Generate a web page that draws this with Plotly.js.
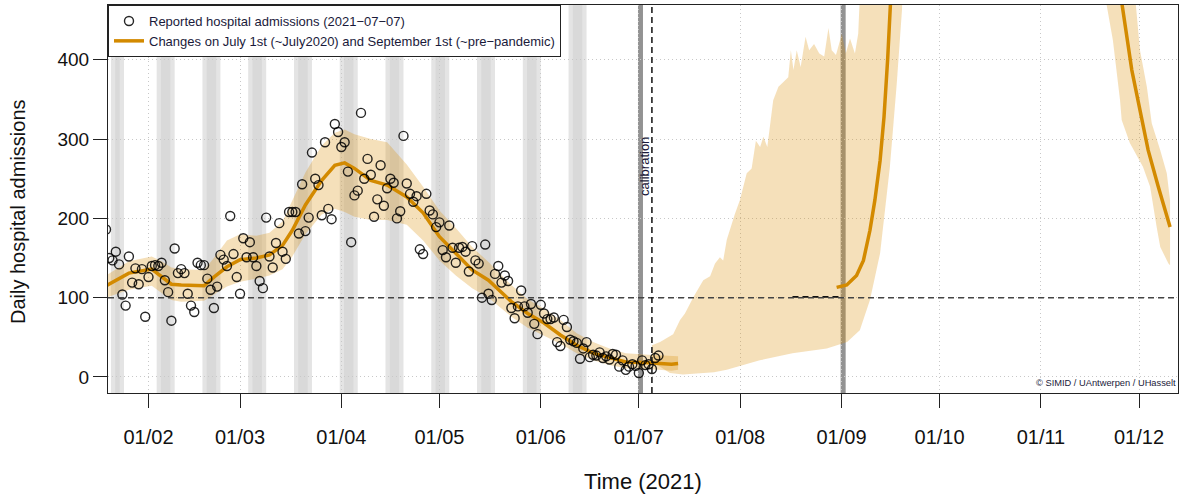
<!DOCTYPE html>
<html><head><meta charset="utf-8">
<script src="https://cdn.plot.ly/plotly-3.0.1.min.js"></script>
<style>html,body{margin:0;padding:0;background:#fff}#chart{width:1182px;height:502px}</style>
</head><body><div id="chart"></div>
<script>
// ---------- data (days counted from 2021-01-01 = day 0) ----------
const obsStartDay = 18; // 2021-01-19, daily observations up to 2021-07-07
const obsValues = [186,150,147,158,142,104,90,152,119,137,
117,136,76,126,140,141,140,144,122,107,
71,162,131,136,131,105,90,82,144,141,
141,124,110,87,114,154,148,140,203,155,
126,105,175,151,170,151,140,121,112,201,
152,138,169,194,158,149,208,208,208,181,
243,184,201,283,250,242,204,296,212,199,
319,309,290,296,259,170,229,235,333,250,
275,255,202,224,267,216,238,250,245,200,
209,304,244,231,221,228,161,155,231,210,
205,189,195,160,151,191,163,144,163,164,
158,133,165,147,143,100,167,105,97,130,
140,119,128,121,87,74,89,109,89,81,
92,67,54,91,80,73,73,75,44,39,
72,63,47,45,43,23,36,44,25,28,
27,31,24,26,22,29,28,13,21,9,
13,16,14,5,21,15,16,10,24,27];

const fitDates = ['2021-01-19','2021-01-22','2021-01-26','2021-02-02','2021-02-05','2021-02-08','2021-02-11','2021-02-18','2021-02-21','2021-02-25',
'2021-03-01','2021-03-06','2021-03-10','2021-03-14','2021-03-17','2021-03-21','2021-03-26','2021-03-30','2021-04-02','2021-04-05',
'2021-04-10','2021-04-15','2021-04-21','2021-04-26','2021-05-01','2021-05-06','2021-05-11','2021-05-16','2021-05-23','2021-05-28',
'2021-06-02','2021-06-07','2021-06-12','2021-06-17','2021-06-22','2021-06-27','2021-07-04','2021-07-11','2021-07-13'];
const fitVals = [115,122,131,136,126,117,116,115,126,139,148,150,154,166,185,217,248,267,270,263,248,242,227,207,177,156,135,122,95,80,68,53,40,30,24,19,18,16,17];
const fitLo   = [100,104,110,115,106,97,95,96,104,114,120,124,128,136,152,180,205,212,208,202,198,198,192,172,147,128,112,100,76,62,52,42,30,21,15,11,10,8,9];
const fitHi   = [128,136,146,152,146,138,136,135,150,172,180,178,182,196,222,258,292,308,312,306,300,296,268,240,210,188,164,145,116,98,86,72,55,44,36,30,28,26,26];

const projLineDays = [241.5,244.6,247.6,249.7,251.7,253.2,254.8,256,257.1,258,262,280,300,320,328.7,331.8,334.3,336.8,339.9,343.5];
const projLineVals = [113,116,128,147,185,223,273,328,400,467,800,1500,1800,900,473,387,337,286,240,189];

const projHiDays = [185,187.5,191.5,193.6,195.1,197.7,200.7,202.8,204.3,205.8,206.8,207.9,210.4,211.9,214,215.5,216.8,218.1,219.1,220.3,222.1,223.7,225.7,226.7,227.5,228.3,229.3,230.5,232,233.1,234.6,236.2,237.7,239,240,241.3,243.1,244.3,245.6,247.1,248.1,248.6,252,270,300,325,332.8,334.3,336.4,337.9,340.5,342.5,343.5];
const projHiVals = [40,44,54,72,80,101,122,127,143,151,147,173,206,223,257,263,298,290,303,290,349,366,374,378,412,387,412,391,429,412,420,408,404,440,412,406,433,408,427,408,433,480,900,2500,2500,1500,480,412,366,320,286,257,223];
const projLoDays = [185,187.5,190.5,194.5,204,207.9,218,228,238.5,244.7,248.6,251.7,254.8,257.8,259.9,261.5,262.5,280,300,320,324.1,326,328.2,328.7,331.2,335.2,337.4,339.4,340.5,343,343.5];
const projLoVals = [18,13,5,3,6,9,21,30,36,44,59,97,156,265,370,463,600,2000,2000,1000,469,425,349,324,295,265,240,189,164,143,141];

// short black dashed segment just before September 1st
const preSepDates = ['2021-08-17','2021-09-01'];
const preSepVals = [101,101];

const weekBandStart = [19.5,33.5,47.5,61.5,75.5,89.5,103.5,117.5,131.5,145.5,159.5];
const weekBandEnd   = [23.5,39,53,67,81,95,109,123,137,151,165];
const changeDates = ['2021-07-01 12:00','2021-09-01 12:00'];
const calibrationDate = '2021-07-05';
const referenceLevel = 100;
const tickDates = ['2021-02-01','2021-03-01','2021-04-01','2021-05-01','2021-06-01','2021-07-01','2021-08-01','2021-09-01','2021-10-01','2021-11-01','2021-12-01'];
const tickLabels = ['01/02','01/03','01/04','01/05','01/06','01/07','01/08','01/09','01/10','01/11','01/12'];

// ---------- helpers ----------
function dayToDate(d){
  const ms = Date.UTC(2021,0,1) + d*86400000;
  return new Date(ms).toISOString().slice(0,19).replace('T',' ');
}
const obsDates = obsValues.map((v,i)=>dayToDate(obsStartDay+i));
const projLineDates = projLineDays.map(dayToDate);
const projHiDates = projHiDays.map(dayToDate);
const projLoDates = projLoDays.map(dayToDate);

const bandFill = 'rgba(218,140,0,0.27)';
const orange = '#D38A00';
const FONT = 'Liberation Sans, Arial, sans-serif';

const traces = [
  {x: fitDates.concat(fitDates.slice().reverse()), y: fitHi.concat(fitLo.slice().reverse()),
   type:'scatter', mode:'lines', fill:'toself', fillcolor:bandFill, line:{width:0}, hoverinfo:'skip', showlegend:false},
  {x: projHiDates.concat(projLoDates.slice().reverse()), y: projHiVals.concat(projLoVals.slice().reverse()),
   type:'scatter', mode:'lines', fill:'toself', fillcolor:bandFill, line:{width:0}, hoverinfo:'skip', showlegend:false},
  {x: preSepDates, y: preSepVals, type:'scatter', mode:'lines', line:{color:'#111', width:1.8, dash:'6px,4px'},
   hoverinfo:'skip', showlegend:false},
  {x: fitDates.concat([null], projLineDates), y: fitVals.concat([null], projLineVals),
   type:'scatter', mode:'lines', line:{color:orange, width:3.5}, connectgaps:false,
   name:'Changes on July 1st (~July2020) and September 1st (~pre\u2212pandemic)', legendrank:2},
  {x: obsDates, y: obsValues, type:'scatter', mode:'markers',
   marker:{symbol:'circle-open', size:9, color:'rgba(0,0,0,0.85)', line:{width:1.4}},
   name:'Reported hospital admissions (2021\u221207\u221207)', legendrank:1}
];

const shapes = [];
weekBandStart.forEach((s,i)=>{
  const e = weekBandEnd[i];
  shapes.push({type:'rect', xref:'x', yref:'paper', x0:dayToDate(s), x1:dayToDate(e), y0:0, y1:1,
    fillcolor:'#e4e4e4', line:{width:0}, layer:'below'});
  shapes.push({type:'rect', xref:'x', yref:'paper', x0:dayToDate(s+1.3), x1:dayToDate(e-1.3), y0:0, y1:1,
    fillcolor:'#d9d9d9', line:{width:0}, layer:'below'});
});
changeDates.forEach(d=>{
  shapes.push({type:'line', xref:'x', yref:'paper', x0:d, x1:d, y0:0, y1:1, line:{color:'#939393', width:5}, layer:'below'});
});
shapes.push({type:'line', xref:'paper', yref:'y', x0:0, x1:1, y0:referenceLevel, y1:referenceLevel, line:{color:'#444', width:1.5, dash:'6px,4px'}, layer:'above'});
shapes.push({type:'line', xref:'x', yref:'paper', x0:calibrationDate, x1:calibrationDate, y0:0, y1:1, line:{color:'#111', width:1.5, dash:'6px,4px'}, layer:'above'});

const layout = {
  width:1182, height:502,
  margin:{l:108, r:4, t:5, b:109},
  paper_bgcolor:'#fff', plot_bgcolor:'#fff',
  font:{family:FONT, color:'#111'},
  showlegend:true,
  legend:{x:0, y:1, xanchor:'left', yanchor:'top', bgcolor:'#fff', bordercolor:'#222', borderwidth:1,
    font:{size:13, color:'#1a1a3a', family:FONT}, traceorder:'normal'},
  xaxis:{type:'date', range:[dayToDate(18.61), dayToDate(345.93)],
    tickvals:tickDates, ticktext:tickLabels, ticks:'outside', ticklen:14, tickcolor:'#222',
    tickfont:{size:20, color:'#111', family:FONT}, ticklabelstandoff:12,
    showgrid:true, gridcolor:'#c8c8c8', griddash:'1px,3px', gridwidth:1,
    showline:true, mirror:true, linecolor:'#222', linewidth:1, zeroline:false,
    title:{text:'Time (2021)', font:{size:22, color:'#111', family:FONT}, standoff:26}},
  yaxis:{range:[-20.2,469.1], tickvals:[0,100,200,300,400], ticks:'outside', ticklen:14, tickcolor:'#222',
    tickfont:{size:19, color:'#111', family:FONT},
    showgrid:true, gridcolor:'#c8c8c8', griddash:'1px,3px', gridwidth:1,
    showline:true, mirror:true, linecolor:'#222', linewidth:1, zeroline:false},
  shapes:shapes,
  annotations:[
    {x:-0.0841, y:0.4665, xref:'paper', yref:'paper', xanchor:'center', yanchor:'middle', text:'Daily hospital admissions', textangle:-90, showarrow:false,
     font:{size:20, color:'#111', family:FONT}},
    {x:dayToDate(182.9), y:265, xref:'x', yref:'y', text:'calibration', textangle:-90, showarrow:false,
     font:{size:13, color:'#1a1a3a', family:FONT}},
    {x:1, y:-8, xref:'paper', yref:'y', xanchor:'right', text:'\u00a9 SIMID / UAntwerpen / UHasselt', showarrow:false,
     font:{size:9.3, color:'#1a1a3a'}}
  ]
};

Plotly.newPlot('chart', traces, layout, {displayModeBar:false, staticPlot:true});
</script>
</body></html>
